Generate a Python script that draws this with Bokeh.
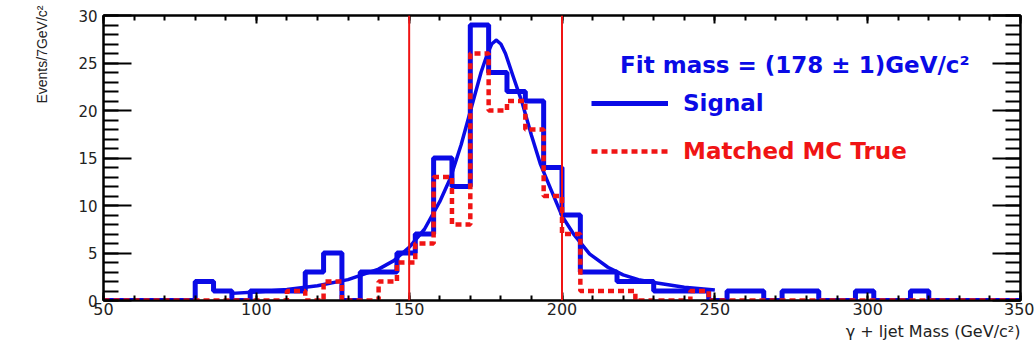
from bokeh.plotting import figure
from bokeh.models import (Range1d, LinearAxis, Span, Label, Legend, LegendItem,
                          Title, SingleIntervalTicker, CustomJSTickFormatter)
from bokeh.embed import file_html
from bokeh.resources import INLINE

# ---------------- data ----------------
bin_edges = list(range(50, 351, 6))          # 50 bins, 6 GeV wide

signal_counts = [0, 0, 0, 0, 0, 2, 1, 0, 1, 1,
                 1, 3, 5, 0, 3, 3, 5, 7, 15, 12,
                 29, 24, 22, 21, 14, 9, 3, 3, 2, 2,
                 1, 1, 1, 0, 1, 1, 0, 1, 1, 0,
                 0, 1, 0, 0, 1, 0, 0, 0, 0, 0]

matched_counts = [0, 0, 0, 0, 0, 0, 0, 0, 0, 0,
                  1, 0, 2, 0, 0, 2, 4, 6, 13, 8,
                  26, 20, 21, 18, 11, 7, 1, 1, 1, 0,
                  0, 0, 1, 0, 0, 0, 0, 0, 0, 0,
                  0, 0, 0, 0, 0, 0, 0, 0, 0, 0]

fit_x = [92, 100, 110, 120, 130, 140, 145, 150, 155, 160, 163.5, 167, 170,
         173.5, 175.5, 177, 178.5, 180, 181.5, 184, 187, 190, 193, 196.5, 200,
         204, 209, 215, 220, 225, 230, 240, 250]
fit_y = [0.75, 0.9, 1.15, 1.55, 2.2, 3.3, 4.2, 5.6, 7.5, 10.4, 12.9, 16.4, 19.9,
         24.0, 25.9, 27.0, 27.4, 27.0, 26.0, 23.6, 20.8, 17.4, 14.3, 11.6, 8.9,
         6.9, 4.9, 3.5, 2.7, 2.2, 1.9, 1.4, 1.1]

window_lines = [150, 200]
x_limits = (50, 350)
y_limits = (0, 30)

fit_text = "Fit mass = (178 \u00b1 1)GeV/c\u00b2"
signal_label = "Signal"
matched_label = "Matched MC True"
x_title = "\u03b3 + ljet Mass (GeV/c\u00b2)"
y_title = "Events/7GeV/c\u00b2"

BLUE = "#0a0ae6"
RED = "#f01414"
FONT = "DejaVu Sans"

# ---------------- figure ----------------
p = figure(width=1034, height=345, output_backend="svg", toolbar_location=None,
           x_range=Range1d(*x_limits), y_range=Range1d(*y_limits),
           min_border_left=103, min_border_right=14, min_border_top=15,
           min_border_bottom=45, background_fill_color="white",
           border_fill_color="white")
p.xgrid.visible = False
p.ygrid.visible = False
p.outline_line_color = "black"
p.outline_line_width = 2

# histogram step data
sig_y = signal_counts + [signal_counts[-1]]
mat_y = matched_counts + [matched_counts[-1]]

sig_r = p.step(bin_edges, sig_y, mode="after", line_color=BLUE, line_width=5)
p.line(fit_x, fit_y, line_color=BLUE, line_width=3.5, line_join="round")
mat_r = p.step(bin_edges, mat_y, mode="after", line_color=RED, line_width=4.5,
               line_dash="6 4")

for loc in window_lines:
    p.add_layout(Span(location=loc, dimension="height", line_color=RED,
                      line_width=2))

# ---------------- axes ----------------
def style_axis(ax, major_in, minor_in, labels=True, size="15px"):
    ax.axis_line_color = "black"
    ax.axis_line_width = 2
    ax.major_tick_line_color = "black"
    ax.minor_tick_line_color = "black"
    ax.major_tick_line_width = 2
    ax.minor_tick_line_width = 2
    ax.major_tick_in = major_in
    ax.major_tick_out = 0
    ax.minor_tick_in = minor_in
    ax.minor_tick_out = 0
    if labels:
        ax.major_label_text_font = FONT
        ax.major_label_text_font_size = size
        ax.major_label_text_color = "#222222"
    else:
        ax.formatter = CustomJSTickFormatter(code="return ''")
        ax.major_label_text_font_size = "8px"
        ax.major_label_standoff = 0

xt = SingleIntervalTicker(interval=50, num_minor_ticks=5)
yt = SingleIntervalTicker(interval=5, num_minor_ticks=5)

p.xaxis.ticker = xt
p.yaxis.ticker = yt
style_axis(p.xaxis[0], 8, 5, True, "16px")
p.xaxis.major_label_standoff = 2
style_axis(p.yaxis[0], 28, 15, True, "15px")
p.yaxis.major_label_standoff = 6

top_ax = LinearAxis(ticker=SingleIntervalTicker(interval=50, num_minor_ticks=5))
style_axis(top_ax, 8, 5, labels=False)
p.add_layout(top_ax, "above")
right_ax = LinearAxis(ticker=SingleIntervalTicker(interval=5, num_minor_ticks=5))
style_axis(right_ax, 28, 15, labels=False)
p.add_layout(right_ax, "right")

# axis titles
xt_title = Title(text=x_title, align="right", text_font=FONT,
                 text_font_size="16px", text_font_style="normal",
                 text_color="#222222", standoff=5)
p.add_layout(xt_title, "below")
yt_title = Title(text=y_title, align="right", text_font="Liberation Sans",
                 text_font_size="14px", text_font_style="normal",
                 text_color="#222222", standoff=52, offset=-10)
p.add_layout(yt_title, "left")

# fit text
p.add_layout(Label(x=219, y=24.8, text=fit_text, text_font=FONT,
                   text_font_size="23px", text_font_style="bold",
                   text_color=BLUE, text_baseline="alphabetic"))

# legends
def make_legend(label, renderer, color, loc):
    return Legend(items=[LegendItem(label=label, renderers=[renderer])],
                  location=loc, orientation="vertical",
                  border_line_color=None, background_fill_alpha=0,
                  padding=0, margin=0, spacing=0,
                  glyph_width=77, glyph_height=24, label_height=24,
                  label_standoff=15, label_text_font=FONT,
                  label_text_font_size="23px", label_text_font_style="bold",
                  label_text_color=color)

p.add_layout(make_legend(signal_label, sig_r, BLUE, (488, 184)))
p.add_layout(make_legend(matched_label, mat_r, RED, (488, 136)))

open("out.html", "w").write(file_html(p, INLINE))
